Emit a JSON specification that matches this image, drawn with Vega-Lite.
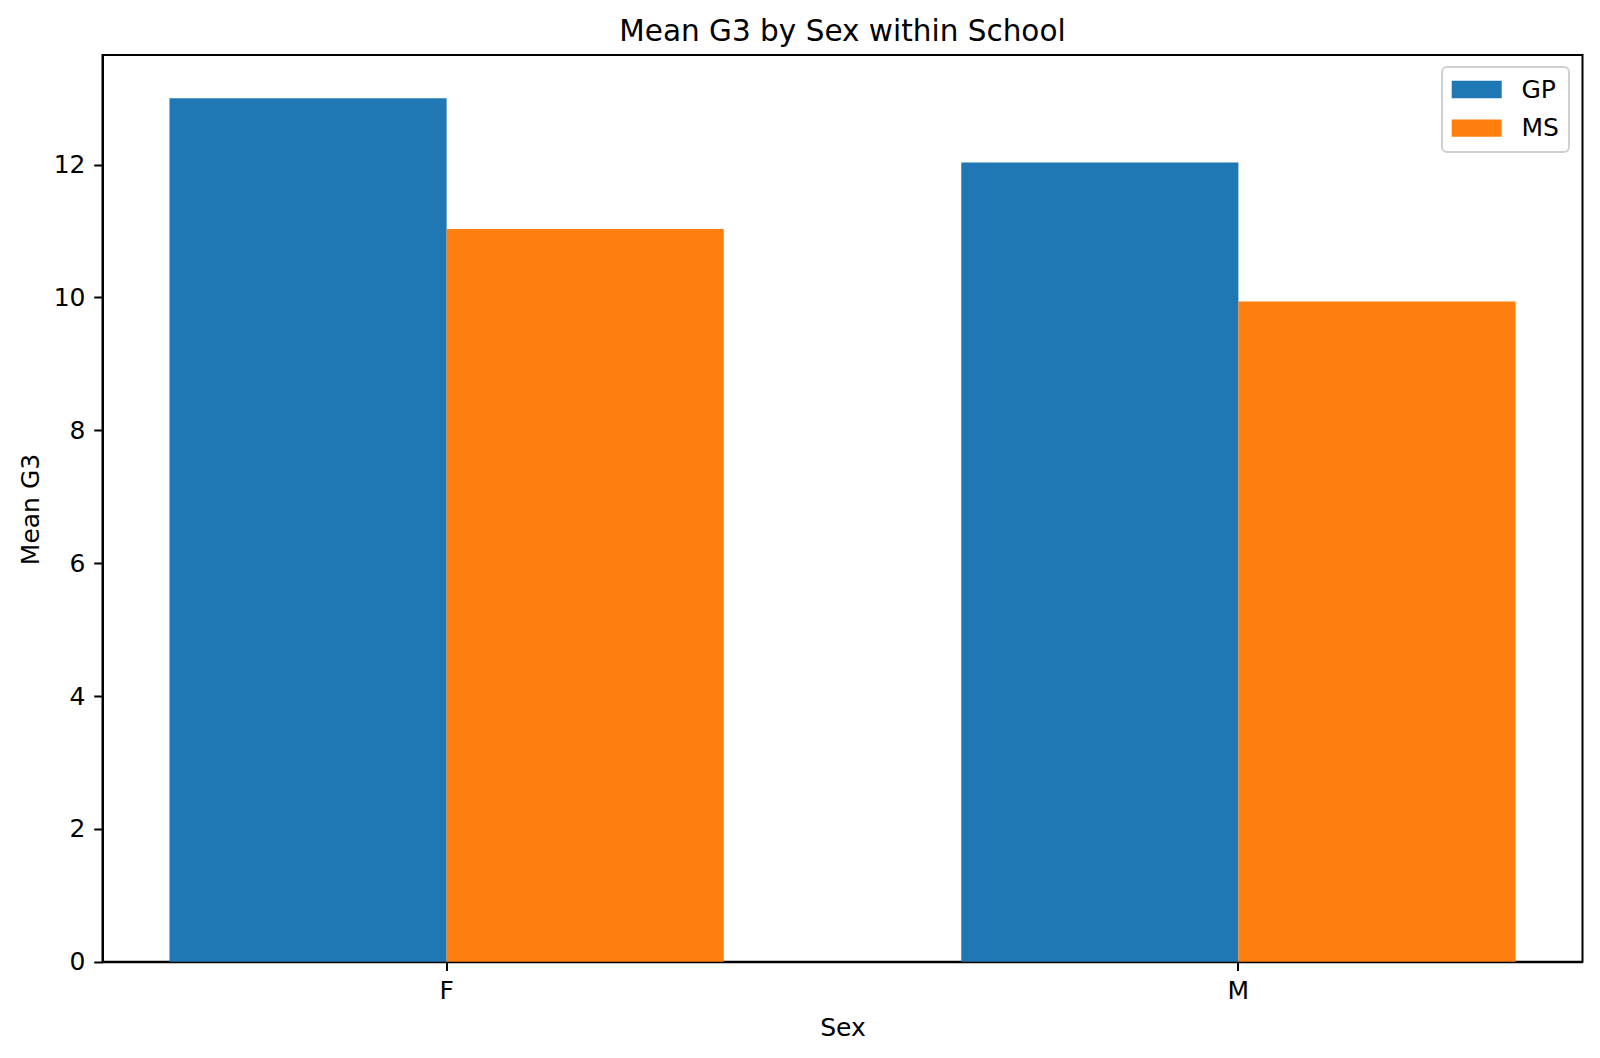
{
  "$schema": "https://vega.github.io/schema/vega-lite/v6.json",
  "autosize": {"type": "none"},
  "padding": {"left": 102.5, "top": 55, "right": 17.5, "bottom": 96.3},
  "width": 1480,
  "height": 906.7,
  "background": "white",
  "title": {
    "text": "Mean G3 by Sex within School",
    "font": "DejaVu Sans",
    "fontSize": 29.5,
    "fontWeight": "normal",
    "color": "black",
    "anchor": "middle",
    "baseline": "alphabetic",
    "offset": 15.5,
    "dy": 30.5
  },
  "config": {
    "view": {"stroke": "black", "strokeWidth": 2},
    "axis": {
      "labelFont": "DejaVu Sans",
      "labelFontSize": 25,
      "labelColor": "black",
      "titleFont": "DejaVu Sans",
      "titleFontSize": 25,
      "titleFontWeight": "normal",
      "titleColor": "black",
      "tickColor": "black",
      "tickWidth": 2,
      "tickSize": 8.75,
      "domainColor": "black",
      "domainWidth": 2,
      "grid": false
    }
  },
  "data": {
    "values": [
      {"Sex": "F", "School": "GP", "MeanG3": 13.0},
      {"Sex": "F", "School": "MS", "MeanG3": 11.03},
      {"Sex": "M", "School": "GP", "MeanG3": 12.03},
      {"Sex": "M", "School": "MS", "MeanG3": 9.94}
    ]
  },
  "mark": {"type": "bar", "strokeWidth": 0},
  "encoding": {
    "x": {
      "field": "Sex",
      "type": "nominal",
      "sort": ["F", "M"],
      "scale": {"paddingInner": 0.3, "paddingOuter": 0.0846},
      "axis": {
        "title": "Sex",
        "labelAngle": 0,
        "labelBaseline": "alphabetic",
        "labelPadding": 28.3,
        "titleBaseline": "alphabetic",
        "titleX": 740,
        "titleY": 73.3,
        "titleAnchor": "middle"
      }
    },
    "xOffset": {
      "field": "School",
      "type": "nominal",
      "sort": ["GP", "MS"],
      "scale": {"paddingInner": 0, "paddingOuter": 0}
    },
    "y": {
      "field": "MeanG3",
      "type": "quantitative",
      "scale": {"domain": [0, 13.65], "nice": false, "zero": true},
      "axis": {
        "title": "Mean G3",
        "values": [0, 2, 4, 6, 8, 10, 12],
        "labelPadding": 8.75,
        "titleAngle": -90,
        "titleBaseline": "alphabetic",
        "titleAlign": "center",
        "titleX": -64.5,
        "titleY": 454
      }
    },
    "color": {
      "field": "School",
      "type": "nominal",
      "sort": ["GP", "MS"],
      "scale": {"domain": ["GP", "MS"], "range": ["#1f77b4", "#ff7f0e"]},
      "legend": {
        "title": null,
        "orient": "none",
        "legendX": 1339.5,
        "legendY": 12,
        "padding": 10,
        "fillColor": "white",
        "strokeColor": "#d0d0d0",
        "cornerRadius": 5,
        "rowPadding": 12.7,
        "labelOffset": 32.2,
        "symbolOffset": 12.2,
        "symbolType": "M-2,-0.692H2V0.692H-2Z",
        "symbolSize": 625,
        "symbolStrokeWidth": 0,
        "labelFont": "DejaVu Sans",
        "labelFontSize": 25,
        "labelColor": "black",
        "encode": {"legend": {"update": {"strokeWidth": {"value": 2}}}}
      }
    }
  }
}
